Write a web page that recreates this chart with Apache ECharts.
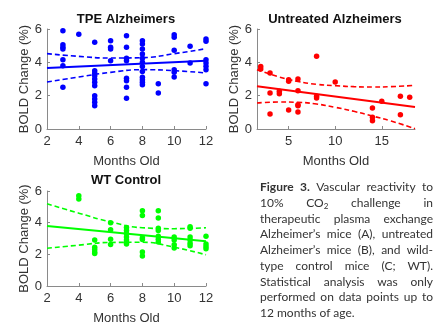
<!DOCTYPE html>
<html>
<head>
<meta charset="utf-8">
<script src="https://cdn.jsdelivr.net/npm/echarts@6/dist/echarts.min.js"></script>
<style>
  html, body { margin: 0; padding: 0; background: #fff; }
  #chart { position: absolute; left: 0; top: 0; width: 442px; height: 326px; }
  #caption {
    position: absolute; left: 260px; top: 179px; width: 173px;
    font-family: Lato, 'Open Sans', sans-serif; font-size: 12px;
    line-height: 15.75px; color: #333;
  }
  #caption div { text-align: justify; text-align-last: justify; }
  #caption div.last { text-align-last: left; }
  #caption sub { font-size: 8px; line-height: 0; vertical-align: -2px; }
</style>
</head>
<body>
<div id="chart"></div>
<div id="caption">
  <div><b>Figure 3.</b> Vascular reactivity to</div>
  <div>10% CO<sub>2</sub> challenge in</div>
  <div>therapeutic plasma exchange</div>
  <div>Alzheimer’s mice (A), untreated</div>
  <div>Alzheimer’s mice (B), and wild-</div>
  <div>type control mice (C; WT).</div>
  <div>Statistical analysis was only</div>
  <div>performed on data points up to</div>
  <div class="last">12 months of age.</div>
</div>
<script>
// TPE Alzheimers (A)
var tpeMonths = [3,3,3,3,3,3,3, 4, 5,5,5,5,5,5,5,5,5,5,5, 6,6,6,6,
                 7,7,7,7,7,7,7,7, 8,8,8,8,8,8,8,8,8,8,8,8, 9,9,
                 10,10,10,10,10,10, 11,11, 12,12,12,12,12,12,12];
var tpeBold = [5.9,5.05,4.9,4.8,4.15,3.8,2.5, 5.68,
               5.2,3.5,3.35,3.2,3.0,2.8,2.6,2.0,1.8,1.6,1.4, 5.3,4.9,4.8,4.1,
               5.6,4.9,4.25,4.1,3.05,2.9,2.5,1.85,
               5.3,5.1,4.8,4.5,4.25,4.0,3.75,3.45,3.1,2.95,2.8,2.65, 2.72,2.16,
               5.66,5.5,4.72,3.56,3.4,3.12, 4.96,3.96, 5.4,5.26,4.16,3.96,3.76,3.56,2.72];
var tpeFitX = [2, 12];
var tpeFit = [3.66, 4.1];
var tpeCiX = [2, 4, 6, 8, 10, 12];
var tpeUpper = [4.52, 4.36, 4.26, 4.28, 4.52, 4.82];
var tpeLower = [2.82, 3.12, 3.4, 3.56, 3.5, 3.36];

// Untreated Alzheimers (B)
var untMonths = [2,2,3,3,3,4,4,5,5,5,6,6,6,6,6,8,8,8,10,14,14,14,15,17,17,18];
var untBold = [3.75,3.6,3.36,2.16,0.9,2.26,2.12,2.96,2.86,1.14,3.0,2.3,1.46,1.4,1.02,
               4.36,1.96,1.86,2.82,1.26,0.7,0.5,1.66,1.96,0.86,1.9];
var untFitX = [1.6, 18.57];
var untFit = [2.56, 1.32];
var untCiX = [1.6, 4, 6, 8, 10, 12, 14, 16, 18.57];
var untUpper = [3.56, 3.12, 2.85, 2.68, 2.6, 2.54, 2.52, 2.54, 2.62];
var untLower = [1.56, 1.62, 1.6, 1.5, 1.3, 1.06, 0.78, 0.48, 0.02];

// WT Control (C)
var wtMonths = [4,4, 5,5,5,5,5, 6,6,6,6, 7,7,7,7,7,7,7, 8,8,8,8,8,8,
                9,9,9,9,9,9,9, 10,10,10,10, 11,11,11,11,11,11, 12,12,12,12];
var wtBold = [5.7,5.5, 2.9,2.45,2.3,2.15,2.05, 4.0,3.55,2.95,2.62,
              3.7,3.5,3.3,3.1,2.9,2.75,2.65, 4.75,4.45,3.04,2.94,2.15,1.9,
              4.75,4.3,3.65,3.5,3.15,2.95,2.78, 3.1,2.9,2.6,2.4,
              3.75,3.65,3.1,2.9,2.7,2.55, 3.15,2.65,2.5,2.35];
var wtFitX = [2, 12];
var wtFit = [3.79, 2.82];
var wtCiX = [2, 4, 6, 8, 10, 12];
var wtUpper = [5.19, 4.6, 4.05, 3.68, 3.62, 3.68];
var wtLower = [2.38, 2.58, 2.75, 2.76, 2.45, 1.97];

var titles = ['TPE Alzheimers', 'Untreated Alzheimers', 'WT Control'];
var xTicksB = [5, 10, 15];

var FONT = "'Liberation Sans', Arial, sans-serif";
var AXIS_COLOR = '#8a8a8a';
var TEXT_COLOR = '#333333';

var zip = function (xs, ys) {
    var res = [];
    for (var i = 0; i < xs.length; i++) res.push([xs[i], ys[i]]);
    return res;
};

var xAxisFor = function (gridIndex, min, max, extra) {
    var axis = {
        type: 'value', gridIndex: gridIndex, min: min, max: max,
        name: 'Months Old', nameLocation: 'middle', nameGap: 26,
        nameTextStyle: { color: TEXT_COLOR, fontSize: 13, fontFamily: FONT },
        axisLine: { show: true, lineStyle: { color: AXIS_COLOR, width: 1 } },
        axisTick: { show: true, inside: true, length: 3, lineStyle: { color: AXIS_COLOR } },
        axisLabel: { color: TEXT_COLOR, fontSize: 13, fontFamily: FONT, margin: 6,
                     showMinLabel: true, showMaxLabel: true },
        splitLine: { show: false }
    };
    for (var k in extra) axis[k] = extra[k];
    return axis;
};

var yAxisFor = function (gridIndex, gap) {
    return {
        type: 'value', gridIndex: gridIndex, min: 0, max: 6, interval: 2,
        name: 'BOLD Change (%)', nameLocation: 'middle', nameGap: gap,
        nameTextStyle: { color: TEXT_COLOR, fontSize: 13, fontFamily: FONT },
        axisLine: { show: true, lineStyle: { color: AXIS_COLOR, width: 1 } },
        axisTick: { show: true, inside: true, length: 3, lineStyle: { color: AXIS_COLOR } },
        axisLabel: { color: TEXT_COLOR, fontSize: 13, fontFamily: FONT, margin: 5 },
        splitLine: { show: false }
    };
};

var groupSeries = function (idx, color, months, bold, fitX, fit, ciX, upper, lower) {
    var dashed = { color: color, width: 1.6, type: [5, 3] };
    return [{
        type: 'scatter', xAxisIndex: idx, yAxisIndex: idx,
        data: zip(months, bold), symbolSize: 5.5,
        itemStyle: { color: color, opacity: 1 }
    }, {
        type: 'line', xAxisIndex: idx, yAxisIndex: idx, data: zip(fitX, fit),
        showSymbol: false, lineStyle: { color: color, width: 2 }
    }, {
        type: 'line', xAxisIndex: idx, yAxisIndex: idx, data: zip(ciX, upper),
        showSymbol: false, smooth: true, lineStyle: dashed
    }, {
        type: 'line', xAxisIndex: idx, yAxisIndex: idx, data: zip(ciX, lower),
        showSymbol: false, smooth: true, lineStyle: dashed
    }];
};

var titleText = function (text, x, y) {
    return {
        type: 'text', x: x, y: y,
        style: { text: text, fontFamily: FONT, fontSize: 13, fontWeight: 'bold',
                 fill: '#111', align: 'center', verticalAlign: 'middle' }
    };
};

var chart = echarts.init(document.getElementById('chart'));

var option = {
    animation: false,
    grid: [
        { left: 47, top: 29, width: 159, height: 100 },
        { left: 257, top: 29, width: 158, height: 100 },
        { left: 47, top: 191, width: 159, height: 100 }
    ],
    xAxis: [
        xAxisFor(0, 2, 12, { interval: 2 }),
        xAxisFor(1, 1.6, 18.57, {
            axisLabel: { color: TEXT_COLOR, fontSize: 13, fontFamily: FONT, margin: 6,
                         customValues: xTicksB },
            axisTick: { show: true, inside: true, length: 3,
                        lineStyle: { color: AXIS_COLOR }, customValues: xTicksB }
        }),
        xAxisFor(2, 2, 12, { interval: 2 })
    ],
    yAxis: [yAxisFor(0, 11), yAxisFor(1, 16), yAxisFor(2, 11)],
    graphic: [
        titleText(titles[0], 126, 19.5),
        titleText(titles[1], 335, 19.5),
        titleText(titles[2], 126, 180)
    ],
    series: [].concat(
        groupSeries(0, '#0000ff', tpeMonths, tpeBold, tpeFitX, tpeFit, tpeCiX, tpeUpper, tpeLower),
        groupSeries(1, '#ff0000', untMonths, untBold, untFitX, untFit, untCiX, untUpper, untLower),
        groupSeries(2, '#00ff00', wtMonths, wtBold, wtFitX, wtFit, wtCiX, wtUpper, wtLower)
    )
};
chart.setOption(option);
</script>
</body>
</html>
